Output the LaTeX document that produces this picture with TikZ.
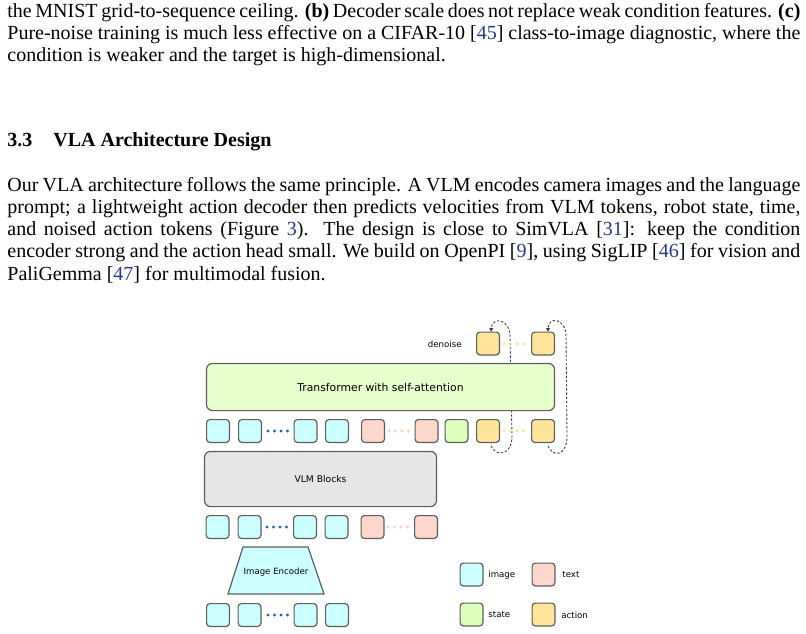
\documentclass[tikz,border=0pt]{standalone}
\usepackage{xcolor}
\usepackage{fontspec}
\setmainfont{Liberation Serif}
\newfontfamily\diafont{DejaVu Sans}
\usepackage{tikz}
\usetikzlibrary{shapes.geometric, arrows.meta}
\definecolor{citeblue}{rgb}{0.16,0.22,0.56}
\definecolor{imgfill}{HTML}{CCFFFF}
\definecolor{txtfill}{HTML}{FFD6CC}
\definecolor{stfill}{HTML}{DDFFBB}
\definecolor{actfill}{HTML}{FFE599}
\definecolor{tffill}{HTML}{E6FFCC}
\definecolor{vlmfill}{HTML}{E6E6E6}
\definecolor{edge}{HTML}{5E5E5E}
\definecolor{dotblue}{HTML}{1F6B9A}
\definecolor{dotpink}{HTML}{FFCDC0}
\definecolor{dotorange}{HTML}{FFE08A}
\newcommand{\cit}[1]{[{\color{citeblue}#1}]}
\newcommand{\jline}[1]{\makebox[396.5pt][s]{#1}}
\newcommand{\seqdots}[3]{\fill[#3] (#1,#2) circle (0.85pt) ++(6.5,0) circle (0.85pt) ++(6.5,0) circle (0.85pt) ++(6.5,0) circle (0.85pt);}
\tikzstyle{para} = [anchor=base west, inner sep=0pt]
\tikzstyle{tok} = [rectangle, rounded corners=1.6pt, minimum size=11.4pt, inner sep=0pt, draw=edge, line width=0.6pt]
\tikzstyle{imgtok} = [tok, fill=imgfill]
\tikzstyle{txttok} = [tok, fill=txtfill]
\tikzstyle{sttok} = [tok, fill=stfill]
\tikzstyle{acttok} = [tok, fill=actfill]
\tikzstyle{block} = [rectangle, rounded corners=3pt, draw=edge, line width=0.6pt, inner sep=0pt]
\tikzstyle{lbl} = [inner sep=0pt, font=\diafont\fontsize{4.3}{5}\selectfont]
\tikzstyle{feedback} = [draw=black!75, line width=0.45pt, dash pattern=on 1.2pt off 0.9pt, -{Latex[length=2pt,width=2.4pt]}]

\begin{document}
\begin{tikzpicture}[x=0.5pt, y=-0.5pt]
   \useasboundingbox (0,0) rectangle (806,633);
   % text of the page
   \node (l1) [para] at (7,17.3) {\jline{the MNIST grid-to-sequence ceiling. \textbf{(b)} Decoder scale does not replace weak condition features. \textbf{(c)}}};
   \node (l2) [para] at (7,39.5) {\jline{Pure-noise training is much less effective on a CIFAR-10 \cit{45} class-to-image diagnostic, where the}};
   \node (l3) [para] at (7,61.7) {condition is weaker and the target is high-dimensional.};
   \node (head) [para] at (7,146) {\textbf{\makebox[23pt][l]{3.3}VLA Architecture Design}};
   \node (p1) [para] at (7,191) {\jline{Our VLA architecture follows the same principle. A VLM encodes camera images and the language}};
   \node (p2) [para] at (7,213.3) {\jline{prompt; a lightweight action decoder then predicts velocities from VLM tokens, robot state, time,}};
   \node (p3) [para] at (7,235.6) {\jline{and noised action tokens (Figure {\color{citeblue}3}).  The design is close to SimVLA \cit{31}:  keep the condition}};
   \node (p4) [para] at (7,257.9) {\jline{encoder strong and the action head small. We build on OpenPI \cit{9}, using SigLIP \cit{46} for vision and}};
   \node (p5) [para] at (7,280.2) {PaliGemma \cit{47} for multimodal fusion.};

   % denoising loops (under the transformer)
   \draw [feedback] (491,446) .. controls (496,457) and (512,456) .. (512,436) -- (510,336) .. controls (510,319) and (492,316) .. (491,332);
   \draw [feedback] (548,446) .. controls (553,458) and (567,456) .. (567,436) -- (566,336) .. controls (566,318) and (548,316) .. (548,332);

   % transformer and outputs
   \node (tf) [block, fill=tffill, minimum width=174pt, minimum height=23.6pt, font=\diafont\fontsize{5.4}{6}\selectfont] at (380.5,387) {Transformer with self-attention};
   \node (den) [lbl, anchor=east] at (462,344) {denoise};
   \node (o1) [acttok] at (488,343.5) {};
   \node (o2) [acttok] at (543,343.5) {};
   \seqdots{504}{344}{dotorange}

   % tokens into the transformer
   \node (a1) [imgtok] at (218,431) {};
   \node (a2) [imgtok] at (250,431) {};
   \node (a3) [imgtok] at (305.5,431) {};
   \node (a4) [imgtok] at (337,431) {};
   \node (a5) [txttok] at (373,431) {};
   \node (a6) [txttok] at (426.5,431) {};
   \node (a7) [sttok] at (456.5,431) {};
   \node (a8) [acttok] at (488,431) {};
   \node (a9) [acttok] at (543,431) {};
   \seqdots{268}{431}{dotblue}
   \seqdots{389}{431}{dotpink}
   \seqdots{504}{431}{dotorange}

   % vlm
   \node (vlm) [block, fill=vlmfill, minimum width=116pt, minimum height=27.6pt, font=\diafont\fontsize{4.6}{5}\selectfont] at (320.5,479) {VLM Blocks};
   \node (b1) [imgtok] at (217.5,527) {};
   \node (b2) [imgtok] at (249.5,527) {};
   \node (b3) [imgtok] at (305,527) {};
   \node (b4) [imgtok] at (336.5,527) {};
   \node (b5) [txttok] at (372.5,527) {};
   \node (b6) [txttok] at (426,527) {};
   \seqdots{267}{527}{dotblue}
   \seqdots{388}{527}{dotpink}

   % image encoder
   \draw [draw=edge, line width=0.6pt, fill=imgfill] (243,547) -- (308,547) -- (324,594) -- (228,594) -- cycle;
   \node (enc) [lbl] at (276,572) {Image Encoder};
   \node (c1) [imgtok] at (218,615) {};
   \node (c2) [imgtok] at (249.5,615) {};
   \node (c3) [imgtok] at (305.5,615) {};
   \node (c4) [imgtok] at (337,615) {};
   \seqdots{268}{615}{dotblue}

   % legend
   \node (kimg) [imgtok] at (471.5,574.5) {};
   \node [lbl, anchor=west] at (488,575) {image};
   \node (ktxt) [txttok] at (543.5,574.5) {};
   \node [lbl, anchor=west] at (562,575) {text};
   \node (kst) [sttok] at (471.5,614.5) {};
   \node [lbl, anchor=west] at (488,615) {state};
   \node (kact) [acttok] at (543.5,614.5) {};
   \node [lbl, anchor=west] at (561,615) {action};
   \end{tikzpicture}
\end{document}
